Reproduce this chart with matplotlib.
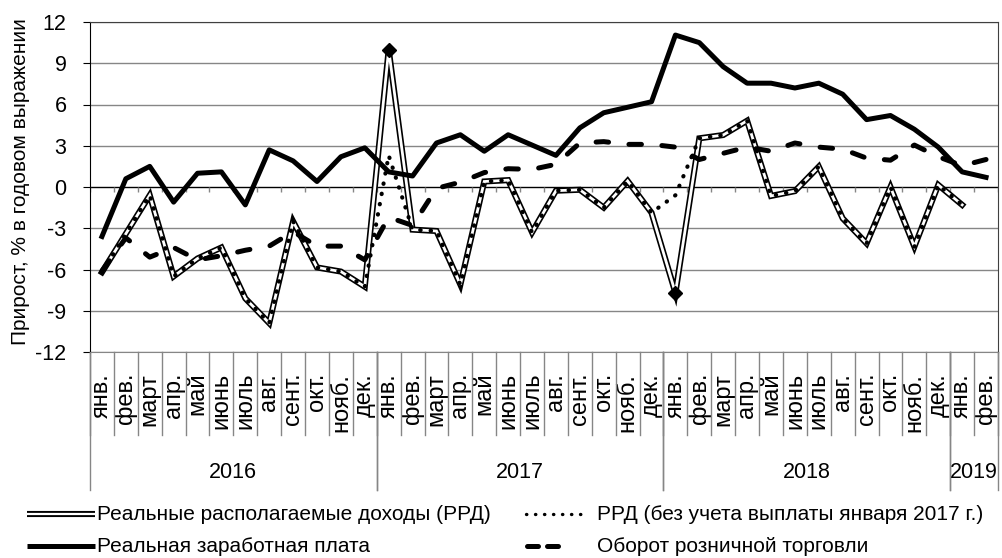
import numpy as np
import matplotlib
matplotlib.use("Agg")
import matplotlib.pyplot as plt
from matplotlib.lines import Line2D
from matplotlib import transforms

plt.rcParams['font.family'] = ['Liberation Sans', 'DejaVu Sans']
plt.rcParams['axes.unicode_minus'] = False

# --- data (% y/y) ---
month_labels = (['янв.', 'фев.', 'март', 'апр.', 'май', 'июнь', 'июль', 'авг.',
                 'сент.', 'окт.', 'нояб.', 'дек.'] * 3 + ['янв.', 'фев.'])
year_labels = ['2016', '2017', '2018', '2019']
year_counts = [12, 12, 12, 2]

rrd = [-6.2, -3.4, -0.6, -6.5, -5.2, -4.4, -8.1, -9.9, -2.5, -5.85, -6.15, -7.25,
       10.0, -3.1, -3.2, -7.1, 0.4, 0.5, -3.3, -0.27, -0.2, -1.5, 0.44, -1.87,
       -7.7, 3.54, 3.78, 4.82, -0.65, -0.3, 1.48, -2.28, -4.1, 0.0, -4.34, 0.15,
       -1.3, np.nan]
rrd_excl = [-6.2, -3.4, -0.6, -6.5, -5.2, -4.4, -8.1, -9.9, -2.5, -5.85, -6.15, -7.25,
            2.3, -3.1, -3.2, -7.1, 0.4, 0.5, -3.3, -0.27, -0.2, -1.5, 0.44, -1.87,
            -0.6, 3.54, 3.78, 4.82, -0.65, -0.3, 1.48, -2.28, -4.1, 0.0, -4.34, 0.15,
            -1.3, np.nan]
wages = [-3.6, 0.6, 1.5, -1.1, 1.0, 1.1, -1.3, 2.7, 1.9, 0.4, 2.2, 2.85,
         1.1, 0.8, 3.2, 3.8, 2.6, 3.8, 3.05, 2.3, 4.3, 5.4, 5.8, 6.2,
         11.05, 10.5, 8.75, 7.55, 7.55, 7.2, 7.55, 6.75, 4.9, 5.2, 4.2, 2.9,
         1.1, 0.7]
retail = [-6.1, -3.7, -5.1, -4.4, -5.3, -5.0, -4.6, -4.3, -3.25, -4.3, -4.3, -5.3,
          -2.2, -2.8, -0.1, 0.35, 1.05, 1.33, 1.28, 1.65, 3.2, 3.3, 3.1, 3.1,
          2.9, 2.0, 2.45, 2.9, 2.6, 3.2, 2.9, 2.75, 2.1, 1.95, 3.05, 2.2,
          1.55, 2.0]
marker_idx = [12, 24]  # one-off payment January 2017 / base effect January 2018

legend_labels = ['Реальные располагаемые доходы (РРД)',
                 'РРД (без учета выплаты января 2017 г.)',
                 'Реальная заработная плата',
                 'Оборот розничной торговли']

W, H = 1002, 558
fig = plt.figure(figsize=(W / 100, H / 100), dpi=100)
ax = fig.add_axes([90 / W, 1 - 352 / H, 908 / W, 330 / H])

x = np.arange(len(month_labels))
grid_c = '#868686'

# series
ax.plot(x, rrd, color='black', lw=4.4, solid_joinstyle='miter', zorder=3)
ax.plot(x, rrd, color='white', lw=2.0, solid_joinstyle='miter', zorder=3.1)
ax.plot(x, rrd_excl, color='black', lw=3.0, linestyle=(0, (0.1, 2.4)),
        dash_capstyle='round', zorder=3.2)
ax.plot(x[marker_idx], np.array(rrd)[marker_idx], linestyle='none', marker='D',
        ms=7.5, color='black', zorder=3.3)
ax.plot(x, wages, color='black', lw=3.6, solid_joinstyle='round', zorder=4)
ax.plot(x, retail, color='black', lw=3.6, linestyle=(0, (2.5, 4.1)),
        dash_capstyle='round', zorder=5)

# axes
ax.set_xlim(-0.5, len(month_labels) - 0.5)
ax.set_ylim(-12, 12)
ax.set_yticks(np.arange(-12, 13, 3))
ax.tick_params(axis='y', labelsize=15.5, length=5, width=0.8, pad=12, color='black')
for v in np.arange(-12, 13, 3):
    if v != 0:
        ax.axhline(v, color=grid_c, lw=1.0, zorder=1)
ax.axhline(0, color='black', lw=1.0, zorder=2)
ax.vlines(np.arange(len(month_labels) + 1) - 0.5, -0.38, 0, color=grid_c, lw=1.0, zorder=2)

ax.set_xticks(x, month_labels, rotation=90, fontsize=17)
ax.tick_params(axis='x', length=0, pad=15)
for lbl in ax.get_xticklabels():
    lbl.set_va('top')

for side in ['top', 'right']:
    ax.spines[side].set_color('#404040')
ax.spines['left'].set_color('black')
ax.spines['bottom'].set_color(grid_c)

ax.set_ylabel('Прирост, % в годовом выражении', fontsize=15)
ax.yaxis.set_label_coords(-0.066, 0.515)

# category separators below the axis
trans = transforms.blended_transform_factory(ax.transData, ax.transAxes)
for b in np.arange(len(month_labels) + 1) - 0.5:
    ax.add_line(Line2D([b, b], [0, -83 / 330], transform=trans, color=grid_c,
                       lw=1.0, clip_on=False))
start = 0
for yl, n in zip(year_labels, year_counts):
    b0, b1 = start - 0.5, start + n - 0.5
    for b in (b0, b1):
        ax.add_line(Line2D([b, b], [0, -138 / 330], transform=trans, color=grid_c,
                           lw=1.0, clip_on=False))
    ax.text((b0 + b1) / 2, -120 / 330, yl, transform=trans, ha='center',
            va='center', fontsize=15.5)
    start += n

# legend (manual layout)
def fx(px):
    return px / W


def fy(py):
    return 1 - py / H


r1, r2 = 514, 546
fs = 15
fig.add_artist(Line2D([fx(27), fx(95)], [fy(r1), fy(r1)], color='black', lw=4.4,
                      solid_capstyle='butt'))
fig.add_artist(Line2D([fx(27), fx(95)], [fy(r1), fy(r1)], color='white', lw=1.6,
                      solid_capstyle='butt'))
fig.text(fx(97), fy(r1), legend_labels[0], fontsize=fs, va='center')
fig.add_artist(Line2D([fx(526), fx(587)], [fy(r1), fy(r1)], color='black', lw=2.4,
                      linestyle=(0, (0.1, 2.6)), dash_capstyle='round'))
fig.text(fx(597), fy(r1), legend_labels[1], fontsize=fs, va='center')
fig.add_artist(Line2D([fx(27), fx(95)], [fy(r2), fy(r2)], color='black', lw=3.6,
                      solid_capstyle='butt'))
fig.text(fx(97), fy(r2), legend_labels[2], fontsize=fs, va='center')
for a, b in [(527, 538), (547, 558)]:
    fig.add_artist(Line2D([fx(a), fx(b)], [fy(r2), fy(r2)], color='black', lw=3.6,
                          solid_capstyle='round'))
fig.text(fx(597), fy(r2), legend_labels[3], fontsize=fs, va='center')

fig.savefig('out.png', dpi=100)
